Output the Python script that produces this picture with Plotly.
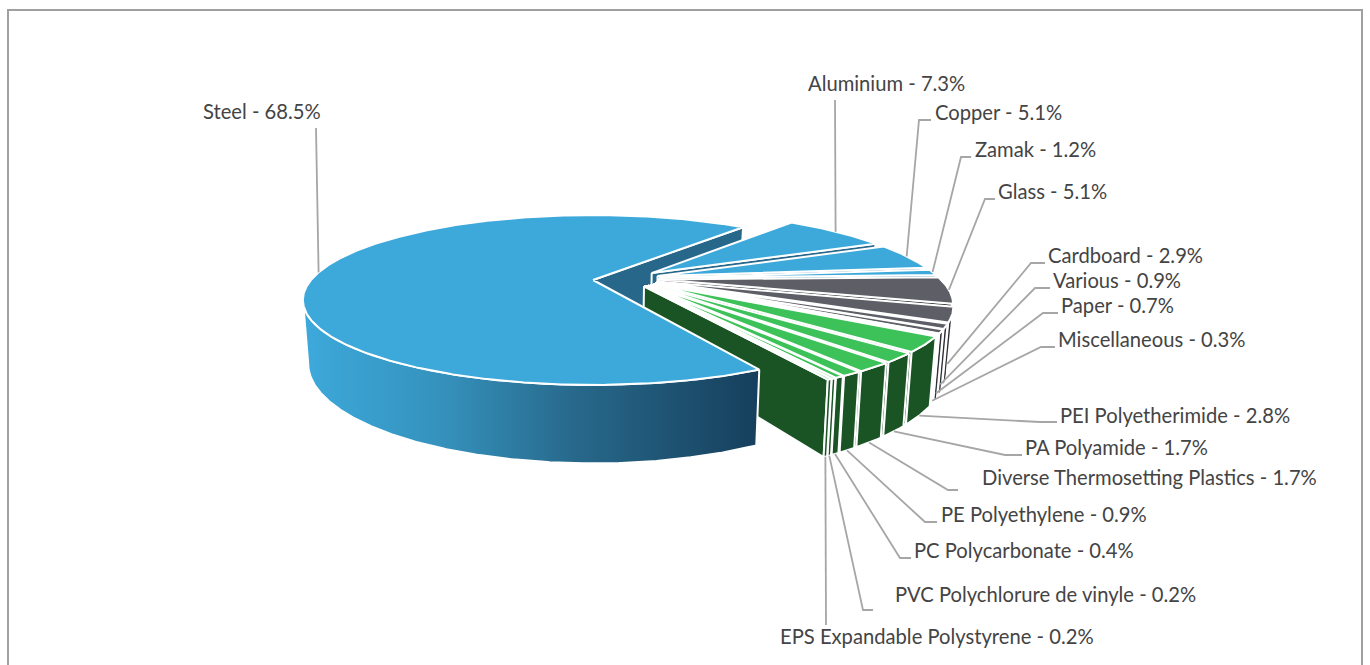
import numpy as np
import plotly.graph_objects as go

# ---- data ----
materials = ["Aluminium", "Copper", "Zamak", "Glass", "Cardboard", "Various", "Paper",
             "Miscellaneous", "PEI Polyetherimide", "PA Polyamide",
             "Diverse Thermosetting Plastics", "PE Polyethylene", "PC Polycarbonate",
             "PVC Polychlorure de vinyle", "EPS Expandable Polystyrene", "Steel"]
shares = [7.3, 5.1, 1.2, 5.1, 2.9, 0.9, 0.7, 0.3, 2.8, 1.7, 1.7, 0.9, 0.4, 0.2, 0.2, 68.5]

BLUE, GREY, GREEN = "#3DA9DB", "#5D5E66", "#3CC258"
D_BLUE, D_GREY, D_GREEN = "#27688A", "#2E2F35", "#1A5425"
top_colors = [BLUE] * 3 + [GREY] * 5 + [GREEN] * 7 + [BLUE]
side_colors = [D_BLUE] * 3 + [D_GREY] * 5 + [D_GREEN] * 7 + [D_BLUE]

# label left x, label centre y
label_pos = [(808, 84), (935, 113), (975, 150), (998, 192), (1048, 256), (1053, 281), (1061, 306),
             (1058, 340), (1060, 416), (1025, 448), (982, 478), (941, 515), (914, 551),
             (895, 595), (780, 637), (203, 112)]
# leader route after leaving the slice
leader_route = [[(835, 100)], [(919, 120), (931, 120)], [(961, 157), (971, 157)], [(985, 199), (995, 199)],
                [(1031, 263), (1045, 263)], [(1035, 288), (1050, 288)], [(1043, 313), (1058, 313)],
                [(1041, 347), (1055, 347)], [(1040, 422), (1057, 422)], [(1005, 455), (1022, 455)],
                [(948, 490), (958, 490)], [(925, 522), (937, 522)], [(900, 558), (911, 558)],
                [(863, 610), (873, 610)], [(826, 625)], [(316, 128)]]
leader_depth = [0, 0, 0, 0, .75, .85, .9, .95, 1, 1, 1, 1, 1, 1, 1, 0]

# ---- projection ----
OX, OY, R, A, K, DEPTH, SHRINK = 593, 280, 282, 80.3, 0.235, 60, 0.018
EXPLODE, START = 0.11, 51.0
CENTER = np.array([EXPLODE * np.cos(np.radians(175)) * -1 + 0.016,
                   EXPLODE * np.sin(np.radians(175)) * -1 + 0.03])


def project(u, v, z=0.0):
    w = 1 + K * v
    x = R * u / w
    y = -A * v / w + DEPTH * z / w
    return OX + x * (1 - SHRINK * z), OY + y


frac = np.array(shares) / sum(shares) * 360
ends = START - np.cumsum(frac)
starts = ends + frac


def offset(i):
    if materials[i] == "Steel":
        return np.array([0.0, 0.0])
    mid = np.radians((starts[i] + ends[i]) / 2)
    return CENTER + EXPLODE * np.array([np.cos(mid), np.sin(mid)])


def arc(i, z=0.0, front_only=False):
    th = np.radians(np.linspace(starts[i], ends[i], max(int(frac[i] * 3), 4)))
    off = offset(i)
    u, v = off[0] + np.cos(th), off[1] + np.sin(th)
    if front_only:
        keep = v < -0.22
        u, v = u[keep], v[keep]
    return project(u, v, z)


fig = go.Figure()


def poly(xs, ys, fill, lw=2.0, **kw):
    xs = list(xs) + [xs[0]]
    ys = list(ys) + [ys[0]]
    fig.add_trace(go.Scatter(x=xs, y=ys, mode="lines", fill="toself", fillcolor=fill,
                             line=dict(color="white", width=lw), hoverinfo="skip",
                             showlegend=False, **kw))


def top_face(i):
    off = offset(i)
    ax, ay = project(off[0], off[1])
    x, y = arc(i)
    poly([ax] + list(x), [ay] + list(y), top_colors[i])


def end_face(i):
    off = offset(i)
    th = np.radians(ends[i])
    ou, ov = off[0] + np.cos(th), off[1] + np.sin(th)
    p = [project(off[0], off[1]), project(ou, ov), project(ou, ov, 1), project(off[0], off[1], 1)]
    poly([q[0] for q in p], [q[1] for q in p], side_colors[i])


def side_face(i, **kw):
    xt, yt = arc(i, 0, True)
    xb, yb = arc(i, 1, True)
    if len(xt) >= 2:
        fill = side_colors[i]
        poly(list(xt) + list(xb[::-1]), list(yt) + list(yb[::-1]), fill, **kw)


steel = materials.index("Steel")
end_face(steel)
for i in range(len(materials)):
    if i != steel:
        end_face(i)
        side_face(i)
        top_face(i)
side_face(steel, fillgradient=dict(type="horizontal",
                                   colorscale=[[0, "#3DA9DB"], [0.3, "#3592BD"], [0.6, "#27688A"], [1, "#163F5C"]]))
top_face(steel)

# leaders and labels
for i, name in enumerate(materials):
    mid = np.radians((starts[i] + ends[i]) / 2)
    off = offset(i)
    ax, ay = project(off[0] + np.cos(mid), off[1] + np.sin(mid), leader_depth[i])
    xs = [ax] + [p[0] for p in leader_route[i]]
    ys = [ay] + [p[1] for p in leader_route[i]]
    fig.add_trace(go.Scatter(x=xs, y=ys, mode="lines", line=dict(color="#A6A6A6", width=1.8),
                             hoverinfo="skip", showlegend=False))
    fig.add_annotation(x=label_pos[i][0], y=label_pos[i][1], xref="x", yref="y", xanchor="left",
                       yanchor="middle", showarrow=False, xshift=-2, yshift=1, text=f"{name} - {shares[i]}%",
                       font=dict(family="Lato", size=20.2, color="#444444"))

fig.add_shape(type="rect", x0=8, y0=10, x1=1362, y1=700, xref="x", yref="y",
              line=dict(color="#A0A0A0", width=2), fillcolor="rgba(0,0,0,0)")
fig.update_layout(width=1370, height=665, margin=dict(l=0, r=0, t=0, b=0), autosize=False,
                  paper_bgcolor="white", plot_bgcolor="white",
                  xaxis=dict(range=[0, 1370], visible=False, fixedrange=True),
                  yaxis=dict(range=[665, 0], visible=False, fixedrange=True))
fig.write_html("out.html", config={"displayModeBar": False},
               post_script="document.body.style.margin='0';document.body.style.overflow='hidden';")
